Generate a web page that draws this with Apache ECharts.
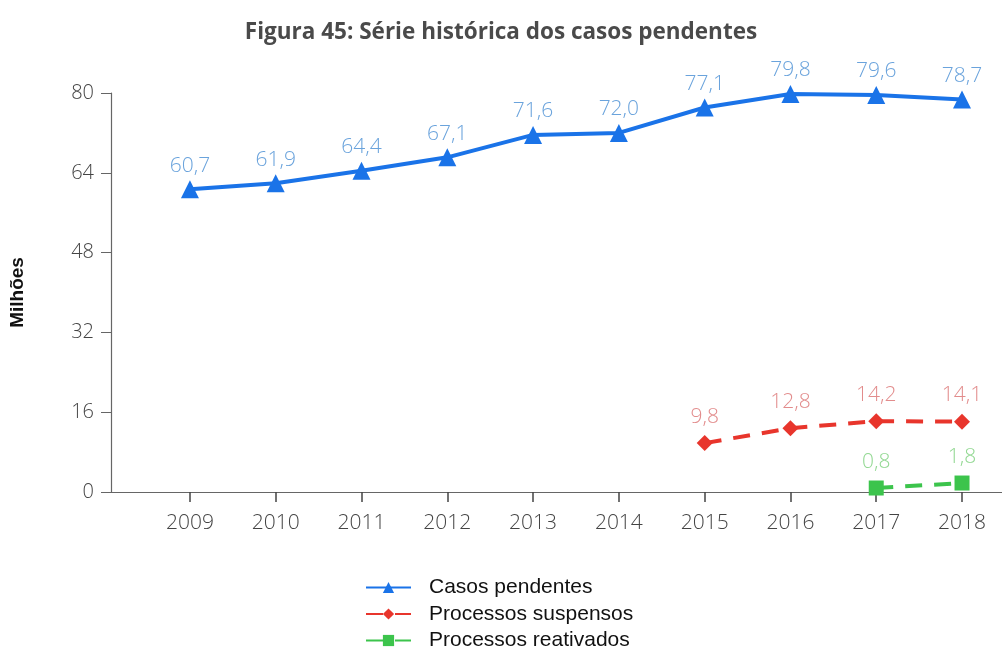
<!DOCTYPE html>
<html>
<head>
<meta charset="utf-8">
<script src="https://cdn.jsdelivr.net/npm/echarts@6/dist/echarts.min.js"></script>
<style>
  html, body { margin: 0; padding: 0; background: #fff; }
  #chart { width: 1002px; height: 653px; }
</style>
</head>
<body>
<div id="chart"></div>
<script>
var anos = [2009, 2010, 2011, 2012, 2013, 2014, 2015, 2016, 2017, 2018];
var casosPendentes = [60.7, 61.9, 64.4, 67.1, 71.6, 72.0, 77.1, 79.8, 79.6, 78.7];
var processosSuspensos = [null, null, null, null, null, null, 9.8, 12.8, 14.2, 14.1];
var processosReativados = [null, null, null, null, null, null, null, null, 0.8, 1.8];
var yTicks = [0, 16, 32, 48, 64, 80];

// pares [ano, valor] para o eixo x numérico
function pares(valores) {
  var out = [];
  for (var i = 0; i < anos.length; i++) {
    if (valores[i] != null) out.push([anos[i], valores[i]]);
  }
  return out;
}

function fmt(p) {
  return String(p.value[1].toFixed(1)).replace('.', ',');
}

var chart = echarts.init(document.getElementById('chart'), null, { renderer: 'canvas' });

var labelFont = { fontFamily: 'Open Sans', fontWeight: 300, fontSize: 21 };

var option = {
  backgroundColor: '#fff',
  animation: false,
  title: {
    text: 'Figura 45: Série histórica dos casos pendentes',
    left: 'center',
    top: 16,
    textStyle: { fontFamily: 'Open Sans', fontWeight: 'bold', fontSize: 22.5, color: '#4a4a4a' }
  },
  legend: {
    orient: 'vertical',
    left: 365,
    top: 577,
    padding: 0,
    itemWidth: 45,
    itemHeight: 14,
    itemGap: 5.5,
    textStyle: { fontFamily: 'Liberation Sans', fontSize: 21, lineHeight: 20, color: '#111', padding: [0, 0, 0, 13] },
    data: ['Casos pendentes', 'Processos suspensos', 'Processos reativados']
  },
  grid: { left: 110, top: 93, right: 0, height: 399 },
  xAxis: {
    type: 'value',
    min: 2008.08,
    max: 2018.466,
    splitLine: { show: false },
    axisLine: { lineStyle: { color: '#666', width: 1.2 } },
    axisTick: { show: true, length: 10, lineStyle: { color: '#444', width: 1.5 }, customValues: anos },
    axisLabel: {
      margin: 21, color: '#444', fontFamily: 'Open Sans', fontWeight: 300, fontSize: 21,
      customValues: anos,
      formatter: function (v) { return String(Math.round(v)); }
    }
  },
  yAxis: {
    type: 'value',
    min: 0,
    max: 80,
    interval: 16,
    name: 'Milhões',
    nameLocation: 'middle',
    nameGap: 84,
    nameTextStyle: { fontFamily: 'Liberation Sans', fontWeight: 'bold', fontSize: 19, color: '#111' },
    axisLine: { show: true, lineStyle: { color: '#666', width: 1.2 } },
    axisTick: { show: true, length: 10, lineStyle: { color: '#666' } },
    splitLine: { show: false },
    axisLabel: {
      margin: 17, color: '#444', fontFamily: 'Open Sans', fontWeight: 300, fontSize: 20,
      customValues: yTicks
    }
  },
  series: [
    {
      name: 'Casos pendentes',
      type: 'line',
      data: pares(casosPendentes),
      symbol: 'triangle',
      symbolSize: 18,
      itemStyle: { color: '#1a73e8' },
      lineStyle: { color: '#1a73e8', width: 4 },
      label: Object.assign({ show: true, position: 'top', distance: 4, color: '#6aa3dc', formatter: fmt }, labelFont)
    },
    {
      name: 'Processos suspensos',
      type: 'line',
      data: pares(processosSuspensos),
      symbol: 'diamond',
      symbolSize: 16,
      itemStyle: { color: '#e8352c' },
      lineStyle: { color: '#e8352c', width: 4, type: [17, 12] },
      label: Object.assign({ show: true, position: 'top', distance: 8, color: '#e28c8c', formatter: fmt }, labelFont)
    },
    {
      name: 'Processos reativados',
      type: 'line',
      data: pares(processosReativados),
      symbol: 'rect',
      symbolSize: 15,
      itemStyle: { color: '#3cc44c' },
      lineStyle: { color: '#3cc44c', width: 4, type: [17, 12] },
      label: Object.assign({ show: true, position: 'top', distance: 8, color: '#92d892', formatter: fmt }, labelFont)
    }
  ]
};

chart.setOption(option);
</script>
</body>
</html>
